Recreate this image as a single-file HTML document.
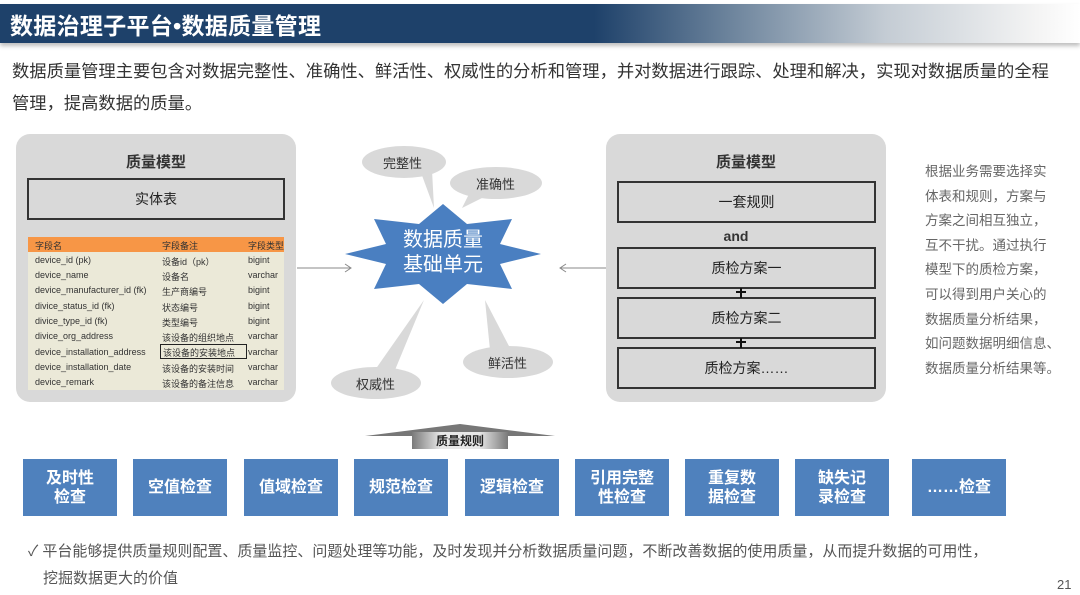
<!DOCTYPE html>
<html><head><meta charset="utf-8"><style>
*{margin:0;padding:0;box-sizing:border-box}
body{width:1080px;height:595px;position:relative;background:#fff;overflow:hidden;font-family:"Liberation Sans","Noto Sans CJK SC",sans-serif;color:#333}
.a{position:absolute}
.hdr{left:0;top:4px;width:1080px;height:39px;background:linear-gradient(90deg,#1e416a 0%,#1e416a 55%,#6f869e 68%,#c4ccd4 82%,#f4f4f4 96%,#fff 100%);box-shadow:0 3px 4px rgba(0,0,0,.25)}
.hdr span{position:absolute;left:10px;top:3px;color:#fff;font-size:23px;font-weight:bold;letter-spacing:.3px}
.p{left:12px;font-size:17.3px;color:#333;white-space:nowrap}
.panel{background:#d9d9d9;border-radius:14px;width:280px;height:268px;top:134px}
.ttl{font-size:15px;font-weight:bold;width:100%;text-align:center;top:17px}
.bx{border:2px solid #333;font-size:14px;text-align:center;display:flex;align-items:center;justify-content:center;color:#222}
.tbl{left:12px;top:103px;width:256px;height:153px;background:#ebe9d8;font-size:9px;color:#333}
.tbl div{position:absolute;white-space:nowrap}
.blue{top:459px;width:94px;height:57px;background:#4f81bd;color:#fff;font-weight:bold;font-size:16px;text-align:center;display:flex;align-items:center;justify-content:center;line-height:19px}
.side{left:925px;top:160px;font-size:13.5px;color:#666;line-height:24.6px;white-space:nowrap}
</style></head><body>
<div class="a hdr"><span>数据治理子平台•数据质量管理</span></div>
<div class="a p" style="top:57px">数据质量管理主要包含对数据完整性、准确性、鲜活性、权威性的分析和管理，并对数据进行跟踪、处理和解决，实现对数据质量的全程</div>
<div class="a p" style="top:89px">管理，提高数据的质量。</div>

<div class="a panel" style="left:16px">
 <div class="a ttl">质量模型</div>
 <div class="a bx" style="left:11px;top:44px;width:258px;height:42px">实体表</div>
 <div class="a tbl">
  <div style="left:0;top:0;width:256px;height:15px;background:#f79646"></div>
  <div style="left:7px;top:2px">字段名</div><div style="left:134px;top:2px">字段备注</div><div style="left:220px;top:2px">字段类型</div>
  <div style="left:7px;top:18px">device_id (pk)</div><div style="left:134px;top:18px">设备id（pk）</div><div style="left:220px;top:18px">bigint</div>
  <div style="left:7px;top:33px">device_name</div><div style="left:134px;top:33px">设备名</div><div style="left:220px;top:33px">varchar</div>
  <div style="left:7px;top:48px">device_manufacturer_id (fk)</div><div style="left:134px;top:48px">生产商编号</div><div style="left:220px;top:48px">bigint</div>
  <div style="left:7px;top:64px">divice_status_id (fk)</div><div style="left:134px;top:64px">状态编号</div><div style="left:220px;top:64px">bigint</div>
  <div style="left:7px;top:79px">divice_type_id (fk)</div><div style="left:134px;top:79px">类型编号</div><div style="left:220px;top:79px">bigint</div>
  <div style="left:7px;top:94px">divice_org_address</div><div style="left:134px;top:94px">该设备的组织地点</div><div style="left:220px;top:94px">varchar</div>
  <div style="left:7px;top:110px">device_installation_address</div><div style="left:132px;top:107px;width:87px;height:15px;border:1px solid #222;padding-left:2px;padding-top:1px">该设备的安装地点</div><div style="left:220px;top:110px">varchar</div>
  <div style="left:7px;top:125px">device_installation_date</div><div style="left:134px;top:125px">该设备的安装时间</div><div style="left:220px;top:125px">varchar</div>
  <div style="left:7px;top:140px">device_remark</div><div style="left:134px;top:140px">该设备的备注信息</div><div style="left:220px;top:140px">varchar</div>
 </div>
</div>

<div class="a panel" style="left:606px">
 <div class="a ttl">质量模型</div>
 <div class="a bx" style="left:11px;top:47px;width:259px;height:42px">一套规则</div>
 <div class="a" style="left:0;top:94px;width:260px;text-align:center;font-weight:bold;font-size:14px">and</div>
 <div class="a bx" style="left:11px;top:113px;width:259px;height:42px">质检方案一</div>
 <div class="a bx" style="left:11px;top:163px;width:259px;height:42px">质检方案二</div>
 <div class="a bx" style="left:11px;top:213px;width:259px;height:42px">质检方案……</div>
</div>

<svg class="a" style="left:0;top:0" width="1080" height="595">
 <g fill="#d9d9d9">
  <ellipse cx="404" cy="162" rx="42" ry="16"/><polygon points="420,170 432,170 434,208"/>
  <ellipse cx="496" cy="183" rx="46" ry="16"/><polygon points="470,192 490,194 462,208"/>
  <ellipse cx="508" cy="362" rx="45" ry="16"/><polygon points="485,300 510,348 490,350"/>
  <ellipse cx="376" cy="383" rx="45" ry="16"/><polygon points="424,300 395,370 375,370"/>
 </g>
 <polygon fill="#4a7fc1" points="541,254 500,264 512,289 467,284 443,304 419,284 374,289 386,264 345,254 386,244 374,219 419,224 443,204 467,224 512,219 500,244"/>
 <g stroke="#888" stroke-width="1" fill="none">
  <line x1="297" y1="268" x2="350" y2="268"/><polyline points="345,264 351,268 345,272"/>
  <line x1="606" y1="268" x2="560" y2="268"/><polyline points="566,264 560,268 566,272"/>
 </g>
 <g stroke="#111" stroke-width="2">
  <line x1="741" y1="288" x2="741" y2="298"/><line x1="736" y1="292" x2="746" y2="292"/>
  <line x1="741" y1="338" x2="741" y2="348"/><line x1="736" y1="342" x2="746" y2="342"/>
 </g>
 <defs><linearGradient id="g" x1="0" x2="1"><stop offset="0" stop-color="#7a7a7a"/><stop offset=".3" stop-color="#e8e8e8"/><stop offset=".7" stop-color="#e8e8e8"/><stop offset="1" stop-color="#7a7a7a"/></linearGradient></defs>
 <polygon fill="#777" points="365,436 460,424 555,436"/>
 <rect x="412" y="432" width="96" height="17" fill="url(#g)"/>
</svg>
<div class="a" style="left:383px;top:153px;font-size:13px">完整性</div>
<div class="a" style="left:476px;top:174px;font-size:13px">准确性</div>
<div class="a" style="left:488px;top:353px;font-size:13px">鲜活性</div>
<div class="a" style="left:356px;top:374px;font-size:13px">权威性</div>
<div class="a" style="left:391px;top:228px;width:104px;text-align:center;color:#fff;font-size:20px;line-height:25px">数据质量<br>基础单元</div>
<div class="a" style="left:412px;top:432px;width:96px;text-align:center;font-size:12px;font-weight:bold;color:#222">质量规则</div>

<div class="a blue" style="left:23px">及时性<br>检查</div>
<div class="a blue" style="left:133px">空值检查</div>
<div class="a blue" style="left:244px">值域检查</div>
<div class="a blue" style="left:354px">规范检查</div>
<div class="a blue" style="left:465px">逻辑检查</div>
<div class="a blue" style="left:575px">引用完整<br>性检查</div>
<div class="a blue" style="left:685px">重复数<br>据检查</div>
<div class="a blue" style="left:795px">缺失记<br>录检查</div>
<div class="a blue" style="left:912px">……检查</div>

<div class="a side">根据业务需要选择实<br>体表和规则，方案与<br>方案之间相互独立，<br>互不干扰。通过执行<br>模型下的质检方案，<br>可以得到用户关心的<br>数据质量分析结果，<br>如问题数据明细信息、<br>数据质量分析结果等。</div>

<div class="a" style="left:28px;top:540px;font-size:15px;color:#555;white-space:nowrap">✓ 平台能够提供质量规则配置、质量监控、问题处理等功能，及时发现并分析数据质量问题，不断改善数据的使用质量，从而提升数据的可用性，</div>
<div class="a" style="left:43px;top:567px;font-size:15px;color:#555">挖掘数据更大的价值</div>
<div class="a" style="left:1057px;top:577px;font-size:13px;color:#555">21</div>
</body></html>
